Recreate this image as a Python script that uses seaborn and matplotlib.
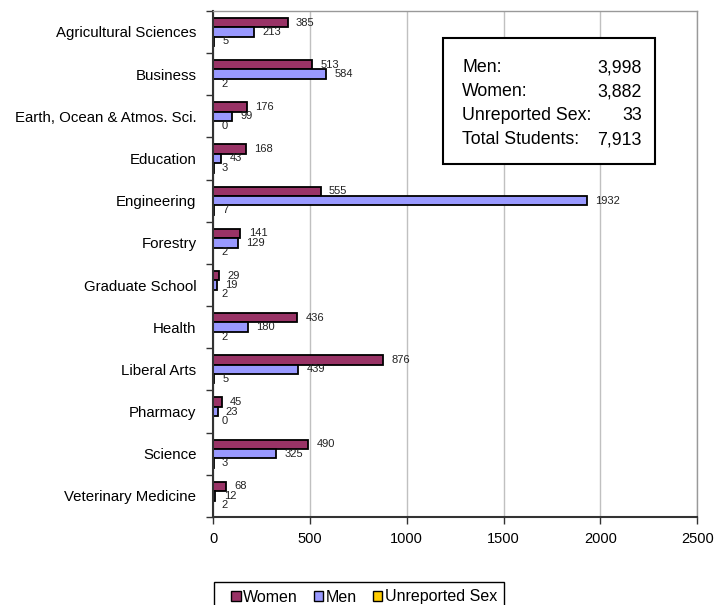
import pandas as pd
import matplotlib
matplotlib.use("Agg")
import matplotlib.pyplot as plt
import seaborn as sns
from matplotlib.patches import Patch, Rectangle

# Chart data
colleges = ["Agricultural Sciences", "Business", "Earth, Ocean & Atmos. Sci.",
            "Education", "Engineering", "Forestry", "Graduate School", "Health",
            "Liberal Arts", "Pharmacy", "Science", "Veterinary Medicine"]
women = [385, 513, 176, 168, 555, 141, 29, 436, 876, 45, 490, 68]
men = [213, 584, 99, 43, 1932, 129, 19, 180, 439, 23, 325, 12]
unreported = [5, 2, 0, 3, 7, 2, 2, 2, 5, 0, 3, 2]
groups = ["Women", "Men", "Unreported Sex"]
colors = ["#993366", "#9999FF", "#FFCC00"]

df = pd.concat([
    pd.DataFrame({"college": colleges, "count": women, "sex": "Women"}),
    pd.DataFrame({"college": colleges, "count": men, "sex": "Men"}),
    pd.DataFrame({"college": colleges, "count": unreported, "sex": "Unreported Sex"}),
])

sns.set_theme(style="white")
plt.rcParams["font.family"] = ["Liberation Sans", "DejaVu Sans"]
plt.rcParams["text.color"] = "black"
plt.rcParams["xtick.color"] = "#333333"
plt.rcParams["ytick.color"] = "#333333"
plt.rcParams["xtick.labelcolor"] = "black"
plt.rcParams["ytick.labelcolor"] = "black"

fig = plt.figure(figsize=(7.15, 6.05), dpi=100)
ax = fig.add_axes([0.298, 0.1455, 0.677, 0.8365])

sns.barplot(data=df, x="count", y="college", hue="sex", hue_order=groups,
            palette=colors, orient="h", width=0.67, edgecolor="black",
            linewidth=1.3, saturation=1, legend=False, ax=ax)

for cont in ax.containers:
    ax.bar_label(cont, fmt="%d", padding=6, fontsize=8, color="#222222")

ax.set_xlim(0, 2500)
ax.set_xticks([0, 500, 1000, 1500, 2000, 2500])
ax.set_xlabel("")
ax.set_ylabel("")
ax.xaxis.grid(True, color="#C0C0C0", linewidth=1)
ax.set_axisbelow(True)
ax.tick_params(axis="x", labelsize=10.5, length=5, width=1, direction="out",
               pad=6, bottom=True)
ax.tick_params(axis="y", which="major", labelsize=10.8, length=0, pad=12)
ax.set_yticks([i + 0.5 for i in range(-1, len(colleges))], minor=True)
ax.tick_params(axis="y", which="minor", length=5, width=1, direction="out",
               left=True)
for side in ["left", "bottom"]:
    ax.spines[side].set_color("#333333")
    ax.spines[side].set_linewidth(1.5)
for side in ["top", "right"]:
    ax.spines[side].set_color("#999999")
    ax.spines[side].set_linewidth(1)

# Totals box
fig.patches.append(Rectangle((0.6196, 0.729), 0.2965, 0.208, transform=fig.transFigure,
                             facecolor="white", edgecolor="black", linewidth=1.5))
rows = [("Men:", sum(men)), ("Women:", sum(women)),
        ("Unreported Sex:", sum(unreported)),
        ("Total Students:", sum(men) + sum(women) + sum(unreported))]
for i, (name, val) in enumerate(rows):
    y = 1 - (68 + 24 * i) / 605
    fig.text(462 / 715, y, name, fontsize=12.8, va="center", ha="left")
    fig.text(642 / 715, y, f"{val:,}", fontsize=12.8, va="center", ha="right")

# Legend below the chart (frame drawn separately, runs off the bottom edge)
fig.patches.append(Rectangle((214 / 715, -0.02), 290 / 715, 0.02 + 23 / 605,
                             transform=fig.transFigure, facecolor="white",
                             edgecolor="black", linewidth=1))
handles = [Patch(facecolor=c, edgecolor="black", linewidth=1) for c in colors]
leg = fig.legend(handles, groups, loc="center left",
                 bbox_to_anchor=(231 / 715, 1 - 597 / 605),
                 ncol=3, fontsize=11.5, frameon=False,
                 handlelength=0.6, handleheight=0.6, handletextpad=0.15,
                 columnspacing=1.0, borderpad=0, borderaxespad=0)

fig.savefig("out.png", dpi=100)
